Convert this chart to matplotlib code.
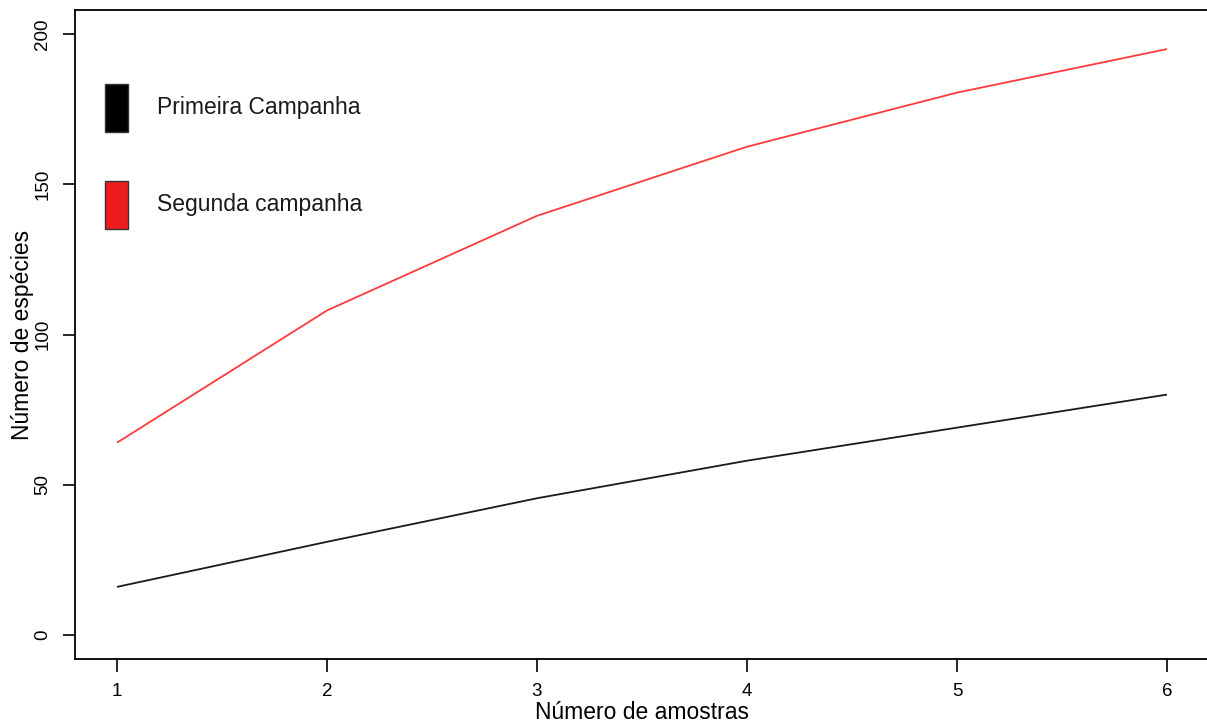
import matplotlib
matplotlib.use("Agg")
import matplotlib.pyplot as plt
from matplotlib.patches import Rectangle

# Species accumulation per number of samples
amostras = [1, 2, 3, 4, 5, 6]
primeira_campanha = [16, 31, 45.5, 58, 69, 80]
segunda_campanha = [64, 108, 139.5, 162.5, 180.5, 195]
series_labels = ["Primeira Campanha", "Segunda campanha"]
x_ticks = [1, 2, 3, 4, 5, 6]
y_ticks = [0, 50, 100, 150, 200]

plt.rcParams["font.family"] = ["Liberation Sans", "DejaVu Sans"]

W, H = 1207, 722
fig = plt.figure(figsize=(W / 100, H / 100), dpi=100)
left, right, top, bottom = 75, 1209, 10, 659
ax = fig.add_axes([left / W, (H - bottom) / H, (right - left) / W, (bottom - top) / H])

ax.plot(amostras, primeira_campanha, color="#1a1a1a", lw=1.3, solid_capstyle="butt")
ax.plot(amostras, segunda_campanha, color="#ff3b3b", lw=1.3, solid_capstyle="butt")

ax.set_xlim(0.8, 6.2)
ax.set_ylim(-8, 208)
ax.set_xticks(x_ticks)
ax.set_yticks(y_ticks)
ax.set_yticklabels([str(v) for v in y_ticks], rotation=90, va="center")
ax.tick_params(axis="both", length=9, width=1.2, labelsize=13.5, pad=8, colors="black")
for s in ax.spines.values():
    s.set_linewidth(1.3)

ax.set_xlabel("Número de amostras", fontsize=16.5, va="center")
ax.set_ylabel("Número de espécies", fontsize=16.5, va="center")
ax.xaxis.set_label_coords(0.5, -0.0817)
ax.yaxis.set_label_coords(-0.0467, 0.5)

# Legend drawn as filled boxes with labels
legend_colors = ["#000000", "#ee1c1c"]
box_y = [0.812, 0.6626]
for lbl, col, y0 in zip(series_labels, legend_colors, box_y):
    ax.add_patch(Rectangle((0.0265, y0), 0.0203, 0.074, transform=ax.transAxes,
                           facecolor=col, edgecolor="#333333", lw=1.0))
    ax.text(0.0723, y0 + 0.037, lbl, transform=ax.transAxes, fontsize=16.5,
            va="center", ha="left", color="#1a1a1a")

fig.savefig("out.png", dpi=100)
